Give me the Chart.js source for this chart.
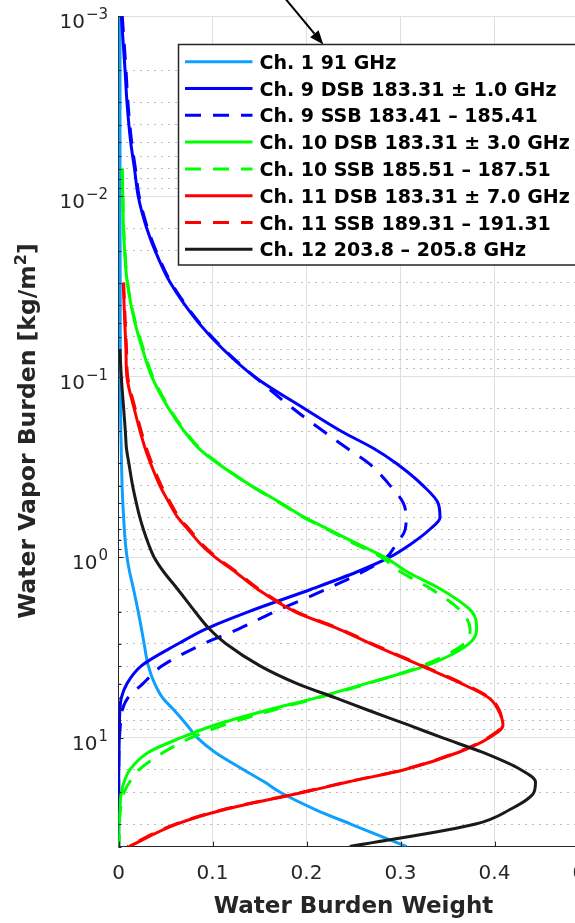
<!DOCTYPE html>
<html>
<head>
<meta charset="utf-8">
<script src="https://cdn.jsdelivr.net/npm/chart.js@4.4.1/dist/chart.umd.min.js"></script>
<style>
  html, body { margin: 0; padding: 0; background: #fff; overflow: hidden; }
  #wrap { position: relative; width: 605px; height: 923px; }
</style>
</head>
<body>
<div id="wrap"><canvas id="chart"></canvas></div>
<script>
// water vapor burden levels [kg/m^2] (y axis, log, reversed)
const burden = [0.001, 0.002, 0.003, 0.005, 0.007, 0.01, 0.015, 0.02, 0.03, 0.05,
                0.07, 0.1, 0.15, 0.2, 0.25, 0.3, 0.4, 0.5, 0.6, 0.7,
                0.85, 1, 1.2, 1.5, 2, 2.5, 3, 4, 5, 6,
                7, 8.5, 10, 12, 15, 17.5, 20, 25, 30, 40];

// water burden weight per channel
const ch1 = [0.0016, 0.0016, 0.0016, 0.0016, 0.0016, 0.0016, 0.0017, 0.0017, 0.0018, 0.0018,
             0.0019, 0.002, 0.0022, 0.0025, 0.0029, 0.0032, 0.0038, 0.0046, 0.0054, 0.0062,
             0.0075, 0.0091, 0.0118, 0.0160, 0.0210, 0.0245, 0.0272, 0.0318, 0.0385, 0.047,
             0.059, 0.073, 0.084, 0.1026, 0.133, 0.155, 0.172, 0.21, 0.247, 0.3066];
const ch9Dsb = [0.003, 0.007, 0.009, 0.013, 0.017, 0.021, 0.030, 0.039, 0.055, 0.085,
                0.111, 0.145, 0.198, 0.237, 0.272, 0.295, 0.324, 0.340, 0.342, 0.331,
                0.310, 0.288, 0.254, 0.205, 0.138, 0.092, 0.064, 0.024, 0.009, 0.003,
                0.0015, 0.001, 0.0008, 0.0005, 0.0003, 0.0002, 0.0002, 0.0002, 0.0002, 0.0002];
const ch9Ssb = [0.004, 0.008, 0.010, 0.014, 0.018, 0.022, 0.031, 0.040, 0.056, 0.086,
                0.112, 0.145, 0.186, 0.218, 0.244, 0.266, 0.289, 0.303, 0.306, 0.305,
                0.295, 0.285, 0.260, 0.221, 0.166, 0.127, 0.091, 0.046, 0.026, 0.010,
                0.004, 0.002, 0.001, 0.0005, 0.0003, 0.0002, 0.0002, 0.0002, 0.0002, 0.0002];
const ch10Dsb = [null, null, null, null, 0.004, 0.0045, 0.0053, 0.0065, 0.0093, 0.0175,
                 0.0255, 0.0355, 0.0535, 0.070, 0.086, 0.105, 0.141, 0.173, 0.198, 0.224,
                 0.256, 0.284, 0.307, 0.343, 0.376, 0.381, 0.373, 0.326, 0.263, 0.210,
                 0.159, 0.102, 0.066, 0.032, 0.012, 0.006, 0.003, 0.0015, 0.0005, 0.0002];
const ch10Ssb = [null, null, null, null, 0.004, 0.0047, 0.0055, 0.0068, 0.0097, 0.018,
                 0.0265, 0.0365, 0.0545, 0.071, 0.087, 0.106, 0.141, 0.172, 0.197, 0.222,
                 0.253, 0.280, 0.300, 0.333, 0.365, 0.374, 0.368, 0.322, 0.265, 0.212,
                 0.165, 0.112, 0.077, 0.048, 0.022, 0.012, 0.006, 0.002, 0.001, 0.0003];
const ch11Dsb = [null, null, null, null, null, null, null, null, 0.005, 0.0067,
                 0.0079, 0.009, 0.0167, 0.023, 0.0285, 0.034, 0.044, 0.054, 0.063, 0.074,
                 0.088, 0.103, 0.124, 0.148, 0.188, 0.235, 0.268, 0.323, 0.365, 0.394,
                 0.404, 0.409, 0.394, 0.362, 0.304, 0.245, 0.197, 0.112, 0.062, 0.011];
const ch11Ssb = [null, null, null, null, null, null, null, null, 0.0055, 0.0072,
                 0.0085, 0.0098, 0.0178, 0.0242, 0.0298, 0.0354, 0.0455, 0.0555, 0.0645, 0.0755,
                 0.0895, 0.1045, 0.1255, 0.1495, 0.1895, 0.2365, 0.2695, 0.3245, 0.3665, 0.395,
                 0.405, 0.408, 0.3925, 0.3605, 0.3025, 0.2435, 0.1955, 0.1105, 0.0605, 0.0095];
const ch12 = [null, null, null, null, null, null, null, null, null, null,
              0.0015, 0.003, 0.0055, 0.0073, 0.0085, 0.011, 0.015, 0.019, 0.0227, 0.0265,
              0.0322, 0.038, 0.048, 0.063, 0.0815, 0.097, 0.114, 0.151, 0.190, 0.231,
              0.265, 0.309, 0.345, 0.387, 0.428, 0.4436, 0.442, 0.416, 0.380, 0.246];

const seriesNames = ['Ch. 1 91 GHz', 'Ch. 9 DSB 183.31 \u00b1 1.0 GHz', 'Ch. 9 SSB 183.41 \u2013 185.41',
                     'Ch. 10 DSB 183.31 \u00b1 3.0 GHz', 'Ch. 10 SSB 185.51 \u2013 187.51',
                     'Ch. 11 DSB 183.31 \u00b1 7.0 GHz', 'Ch. 11 SSB 189.31 \u2013 191.31',
                     'Ch. 12 203.8 \u2013 205.8 GHz'];
const seriesValues = [ch1, ch9Dsb, ch9Ssb, ch10Dsb, ch10Ssb, ch11Dsb, ch11Ssb, ch12];
const seriesColors = ['#0fa0ff', '#0000ff', '#0000ff', '#00ff00', '#00ff00', '#ff0000', '#ff0000', '#1a1a1a'];
const seriesDashed = [false, false, true, false, true, false, true, false];

const yDecades = [0.001, 0.01, 0.1, 1, 10];
const yDecadeExp = ['\u22123', '\u22122', '\u22121', '0', '1'];

const FONT = 'DejaVu Sans';
const AXIS = '#262626';
const DASH = [16, 12];

const isDecade = v => Math.abs(Math.log10(v) - Math.round(Math.log10(v))) < 1e-6;

const datasets = seriesValues.map((vals, i) => ({
    label: seriesNames[i],
    data: burden.map((b, k) => ({ x: vals[k], y: b })),
    borderColor: seriesColors[i],
    borderWidth: 3,
    borderDash: seriesDashed[i] ? DASH : [],
    pointRadius: 0,
    fill: false,
    cubicInterpolationMode: 'monotone',
    order: seriesValues.length - 1 - i
}));

// inward ticks, superscript labels, y title, legend box and the arrow
const decor = {
    id: 'decor',
    afterDraw(chart) {
        const ctx = chart.ctx;
        const xs = chart.scales.x;
        const ys = chart.scales.y;
        const area = chart.chartArea;
        ctx.save();

        // tick marks pointing inward
        ctx.strokeStyle = AXIS;
        ctx.lineWidth = 1;
        for (let e = -3; e <= 1; e++) {
            for (let m = 1; m <= 9; m++) {
                const v = m * Math.pow(10, e);
                if (v < 0.001 || v > 40) continue;
                const py = Math.round(ys.getPixelForValue(v)) + 0.5;
                ctx.beginPath();
                ctx.moveTo(area.left, py);
                ctx.lineTo(area.left + (m === 1 ? 5 : 3), py);
                ctx.stroke();
            }
        }
        xs.ticks.forEach(t => {
            const px = Math.round(xs.getPixelForValue(t.value)) + 0.5;
            ctx.beginPath();
            ctx.moveTo(px, area.bottom);
            ctx.lineTo(px, area.bottom - 5);
            ctx.stroke();
        });

        // y tick labels 10^n
        ctx.fillStyle = AXIS;
        ctx.textBaseline = 'alphabetic';
        ctx.textAlign = 'left';
        yDecades.forEach((v, i) => {
            const py = ys.getPixelForValue(v);
            ctx.font = `15px ${FONT}`;
            const ew = ctx.measureText(yDecadeExp[i]).width;
            ctx.font = `20px ${FONT}`;
            const bw = ctx.measureText('10').width;
            const right = 108;
            ctx.fillText('10', right - ew - bw - 1, py + 12);
            ctx.font = `15px ${FONT}`;
            ctx.fillText(yDecadeExp[i], right - ew, py + 3);
        });

        // y axis title with superscript
        ctx.save();
        ctx.translate(35, 431);
        ctx.rotate(-Math.PI / 2);
        const main = 'Water Vapor Burden [kg/m';
        ctx.font = `bold 23.5px ${FONT}`;
        const w1 = ctx.measureText(main).width;
        const w3 = ctx.measureText(']').width;
        ctx.font = `bold 16px ${FONT}`;
        const w2 = ctx.measureText('2').width;
        const x0 = -(w1 + w2 + w3) / 2;
        ctx.font = `bold 23.5px ${FONT}`;
        ctx.fillText(main, x0, 0);
        ctx.font = `bold 16px ${FONT}`;
        ctx.fillText('2', x0 + w1, -9);
        ctx.font = `bold 23.5px ${FONT}`;
        ctx.fillText(']', x0 + w1 + w2, 0);
        ctx.restore();

        // legend
        const lx = 178.5, ly = 44.5, lw = 440, lh = 220.5;
        ctx.fillStyle = '#fff';
        ctx.fillRect(lx, ly, lw, lh);
        ctx.strokeStyle = AXIS;
        ctx.lineWidth = 1.5;
        ctx.strokeRect(lx, ly, lw, lh);
        chart.data.datasets.forEach((ds, i) => {
            const cy = 61.7 + i * 26.8;
            ctx.strokeStyle = ds.borderColor;
            ctx.lineWidth = ds.borderWidth;
            ctx.setLineDash(ds.borderDash);
            ctx.beginPath();
            ctx.moveTo(185, cy);
            ctx.lineTo(252.5, cy);
            ctx.stroke();
            ctx.setLineDash([]);
            ctx.fillStyle = '#000';
            ctx.font = `bold 19px ${FONT}`;
            ctx.fillText(ds.label, 259.5, cy + 7);
        });

        // annotation arrow pointing at the legend
        const tip = { x: 323.3, y: 44.5 }, start = { x: 284, y: -3 };
        const len = Math.hypot(tip.x - start.x, tip.y - start.y);
        const dx = (tip.x - start.x) / len, dy = (tip.y - start.y) / len;
        const bx = tip.x - 14 * dx, by = tip.y - 14 * dy;
        ctx.strokeStyle = '#000';
        ctx.fillStyle = '#000';
        ctx.lineWidth = 2;
        ctx.beginPath();
        ctx.moveTo(start.x, start.y);
        ctx.lineTo(bx, by);
        ctx.stroke();
        ctx.beginPath();
        ctx.moveTo(tip.x, tip.y);
        ctx.lineTo(bx - 5.5 * dy, by + 5.5 * dx);
        ctx.lineTo(bx + 5.5 * dy, by - 5.5 * dx);
        ctx.closePath();
        ctx.fill();

        ctx.restore();
    }
};

new Chart(document.getElementById('chart'), {
    type: 'line',
    data: { datasets },
    options: {
        indexAxis: 'y',
        responsive: true,
        maintainAspectRatio: false,
        animation: false,
        events: [],
        layout: { padding: { left: 118.5, top: 16, right: 16.5, bottom: 0 } },
        plugins: { legend: { display: false }, tooltip: { enabled: false } },
        scales: {
            x: {
                type: 'linear',
                min: 0,
                max: 0.5,
                ticks: { stepSize: 0.1, color: AXIS, font: { family: FONT, size: 20 }, padding: 15 },
                grid: { color: '#dfdfdf', drawTicks: false },
                border: { color: AXIS, width: 1 },
                title: {
                    display: true,
                    text: 'Water Burden Weight',
                    color: AXIS,
                    font: { family: FONT, size: 23, weight: 'bold' },
                    padding: { top: 0, bottom: 2 }
                },
                afterFit: s => { s.height = 76.4; s.paddingLeft = 0; s.paddingRight = 0; }
            },
            y: {
                type: 'logarithmic',
                position: 'left',
                reverse: true,
                min: 0.001,
                max: 40,
                ticks: { display: false },
                grid: {
                    drawTicks: false,
                    color: c => (c.tick && isDecade(c.tick.value)) ? '#dfdfdf' : 'rgba(0,0,0,0)'
                },
                border: { color: AXIS, width: 1 },
                afterFit: s => { s.width = 0; }
            },
            yMinor: {
                type: 'logarithmic',
                axis: 'y',
                position: 'left',
                reverse: true,
                min: 0.001,
                max: 40,
                ticks: { display: false },
                grid: {
                    drawTicks: false,
                    color: c => (c.tick && !isDecade(c.tick.value)) ? '#bcbcbc' : 'rgba(0,0,0,0)'
                },
                border: { display: false, dash: [2, 5] },
                afterFit: s => { s.width = 0; }
            }
        }
    },
    plugins: [decor]
});
</script>
</body>
</html>
